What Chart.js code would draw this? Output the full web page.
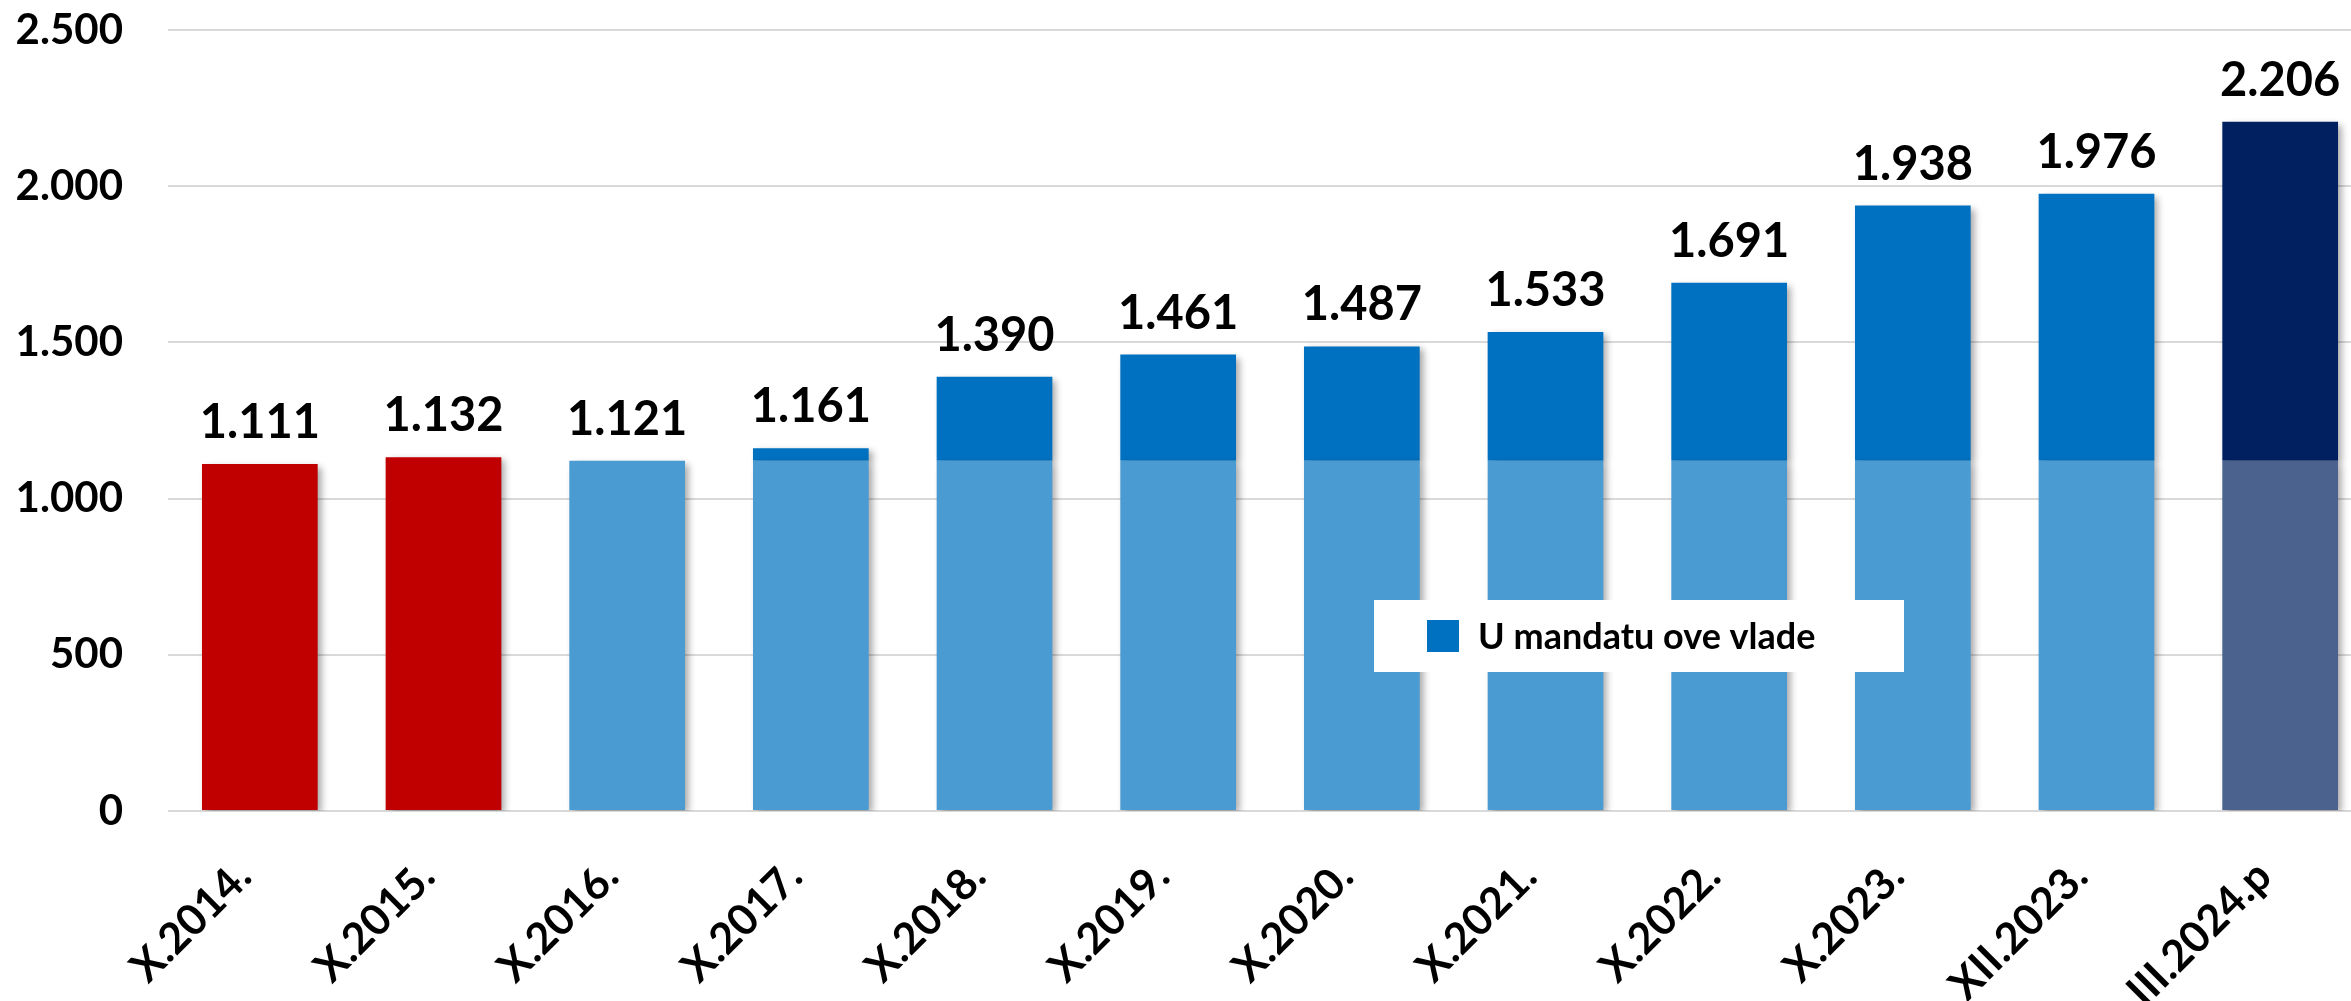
<!DOCTYPE html>
<html>
<head>
<meta charset="utf-8">
<script src="https://cdn.jsdelivr.net/npm/chart.js@4/dist/chart.umd.min.js"></script>
<style>
  html, body { margin: 0; padding: 0; background: #fff; overflow: hidden; }
  #wrap { width: 2372px; height: 1001px; position: relative; }
</style>
</head>
<body>
<div id="wrap"><canvas id="chart"></canvas></div>
<script>
// categories and values
const categories = ["X.2014.", "X.2015.", "X.2016.", "X.2017.", "X.2018.", "X.2019.",
  "X.2020.", "X.2021.", "X.2022.", "X.2023.", "XII.2023.", "III.2024.p"];
const totals = [1111, 1132, 1121, 1161, 1390, 1461, 1487, 1533, 1691, 1938, 1976, 2206];
const baseValues = [1111, 1132, 1121, 1121, 1121, 1121, 1121, 1121, 1121, 1121, 1121, 1121];
const yTicks = [0, 500, 1000, 1500, 2000, 2500];
const legendLabel = "U mandatu ove vlade";

// colours
const baseColors = ["#C00000", "#C00000", "#4B9BD3", "#4B9BD3", "#4B9BD3", "#4B9BD3",
  "#4B9BD3", "#4B9BD3", "#4B9BD3", "#4B9BD3", "#4B9BD3", "#4B628F"];
const topColors = ["#0070C0", "#0070C0", "#0070C0", "#0070C0", "#0070C0", "#0070C0",
  "#0070C0", "#0070C0", "#0070C0", "#0070C0", "#0070C0", "#002060"];

// part added in this government's term
const addedValues = totals.map((t, i) => t - baseValues[i]);

const FONT = "Lato";
const fmt = (v) => v.toLocaleString("de-DE");

// soft shadow to the right of the bars
const shadowPlugin = {
  id: "barShadow",
  beforeDatasetsDraw(chart) {
    const ctx = chart.ctx;
    ctx.save();
    ctx.shadowColor = "rgba(0, 0, 0, 0.35)";
    ctx.shadowBlur = 7;
    ctx.shadowOffsetX = 4;
    ctx.shadowOffsetY = 3;
  },
  afterDatasetsDraw(chart) {
    chart.ctx.restore();
  }
};

// value labels above each stack + legend box inside the plot
const labelPlugin = {
  id: "valueLabels",
  afterDatasetsDraw(chart) {
    const ctx = chart.ctx;
    const topMeta = chart.getDatasetMeta(1);
    ctx.save();
    ctx.fillStyle = "#000";
    ctx.font = `bold 47px ${FONT}`;
    ctx.textAlign = "center";
    ctx.textBaseline = "alphabetic";
    topMeta.data.forEach((bar, i) => {
      ctx.fillText(fmt(totals[i]), bar.x, bar.y - 26);
    });

    // legend
    ctx.fillStyle = "#fff";
    ctx.fillRect(1374, 600, 530, 72);
    ctx.fillStyle = topColors[0];
    ctx.fillRect(1427, 620, 32, 32);
    ctx.fillStyle = "#000";
    ctx.font = `bold 36px ${FONT}`;
    ctx.textAlign = "left";
    ctx.fillText(legendLabel, 1478, 649);
    ctx.restore();
  }
};

const ctx = document.getElementById("chart").getContext("2d");
new Chart(ctx, {
  type: "bar",
  data: {
    labels: categories,
    datasets: [
      {
        label: "Osnovica",
        data: baseValues,
        backgroundColor: baseColors,
        borderWidth: 0,
        barPercentage: 0.63,
        categoryPercentage: 1.0
      },
      {
        label: legendLabel,
        data: addedValues,
        backgroundColor: topColors,
        borderWidth: 0,
        barPercentage: 0.63,
        categoryPercentage: 1.0
      }
    ]
  },
  options: {
    responsive: true,
    maintainAspectRatio: false,
    animation: false,
    layout: { padding: 0 },
    plugins: {
      legend: { display: false },
      tooltip: { enabled: false }
    },
    scales: {
      x: {
        stacked: true,
        grid: { display: false, drawTicks: false },
        border: { display: false },
        ticks: {
          color: "#000",
          font: { family: FONT, weight: "bold", size: 43 },
          minRotation: 45,
          maxRotation: 45,
          padding: 40,
          labelOffset: -16,
          autoSkip: false
        },
        afterFit(scale) {
          scale.height = 190;
          scale.paddingLeft = 0;
          scale.paddingRight = 0;
        }
      },
      y: {
        stacked: true,
        min: yTicks[0],
        max: yTicks[yTicks.length - 1],
        grid: { color: "#D9D9D9", lineWidth: 2, drawTicks: false },
        border: { display: false },
        afterBuildTicks(scale) { scale.ticks = yTicks.map(v => ({ value: v })); },
        ticks: {
          color: "#000",
          font: { family: FONT, weight: "bold", size: 42 },
          padding: 45,
          callback: (v) => fmt(v)
        },
        afterFit(scale) {
          scale.width = 168;
          scale.paddingTop = 30;
          scale.paddingBottom = 0;
        }
      }
    }
  },
  plugins: [shadowPlugin, labelPlugin]
});
</script>
</body>
</html>
